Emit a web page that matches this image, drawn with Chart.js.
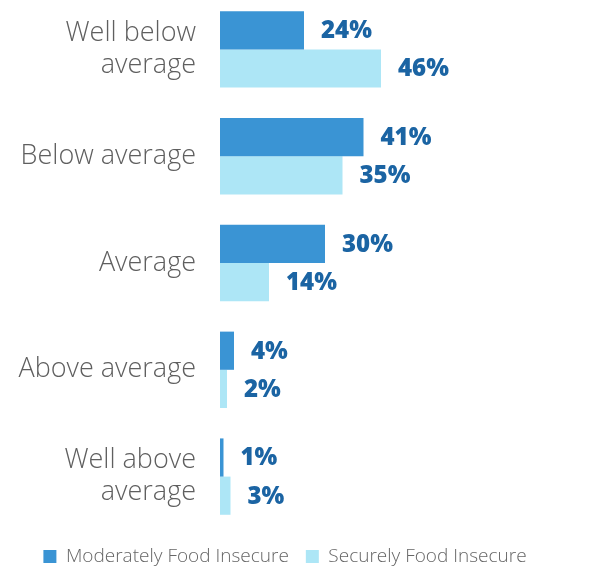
<!DOCTYPE html>
<html><head><meta charset="utf-8">
<script src="https://cdn.jsdelivr.net/npm/chart.js@4"></script>
<style>
html,body{margin:0;padding:0;background:#fff;overflow:hidden;}
#wrap{position:absolute;left:0;top:-4px;width:592px;height:590px;}
</style></head>
<body>
<div id="wrap"><canvas id="c" width="592" height="590"></canvas></div>
<script>
const categories = [["Well below","average"],"Below average","Average","Above average",["Well above","average"]];
const seriesNames = ["Moderately Food Insecure","Securely Food Insecure"];
const moderately = [24, 41, 30, 4, 1];
const securely = [46, 35, 14, 2, 3];

const valueLabels = {
  id:'valueLabels',
  afterDatasetsDraw(chart){
    const ctx = chart.ctx;
    ctx.save();
    ctx.font = '800 24px "Open Sans", "Noto Sans", sans-serif';
    ctx.fillStyle = '#1b64a3';
    ctx.textBaseline = 'middle';
    ctx.textAlign = 'left';
    chart.data.datasets.forEach((ds,di)=>{
      const meta = chart.getDatasetMeta(di);
      meta.data.forEach((bar,i)=>{
        ctx.fillText(ds.data[i]+'%', bar.x+17, bar.y+1);
      });
    });
    ctx.restore();
  }
};

new Chart(document.getElementById('c'),{
  type:'bar',
  data:{
    labels:categories,
    datasets:[
      {label:seriesNames[0],data:moderately,backgroundColor:'#3a94d4',categoryPercentage:0.715,barPercentage:1.0},
      {label:seriesNames[1],data:securely,backgroundColor:'#ade6f6',categoryPercentage:0.715,barPercentage:1.0}
    ]
  },
  options:{
    indexAxis:'y',
    responsive:false,
    animation:false,
    layout:{padding:{left:0,right:22,top:0,bottom:10}},
    scales:{
      x:{display:false,min:0,max:100},
      y:{
        grid:{display:false},
        border:{display:false},
        ticks:{color:'#5f5f5f',font:{family:'"Open Sans", "Noto Sans", sans-serif',size:27,weight:300,lineHeight:1.2},padding:16},
        afterFit(s){s.width=220;s.paddingTop=0;s.paddingBottom=0;}
      }
    },
    plugins:{
      legend:{
        position:'bottom',
        labels:{color:'#666',font:{family:'"Open Sans", "Noto Sans", sans-serif',size:19,weight:300},boxWidth:13,boxHeight:13,padding:17}
      },
      tooltip:{enabled:false}
    }
  },
  plugins:[valueLabels]
});
</script>
</body></html>
